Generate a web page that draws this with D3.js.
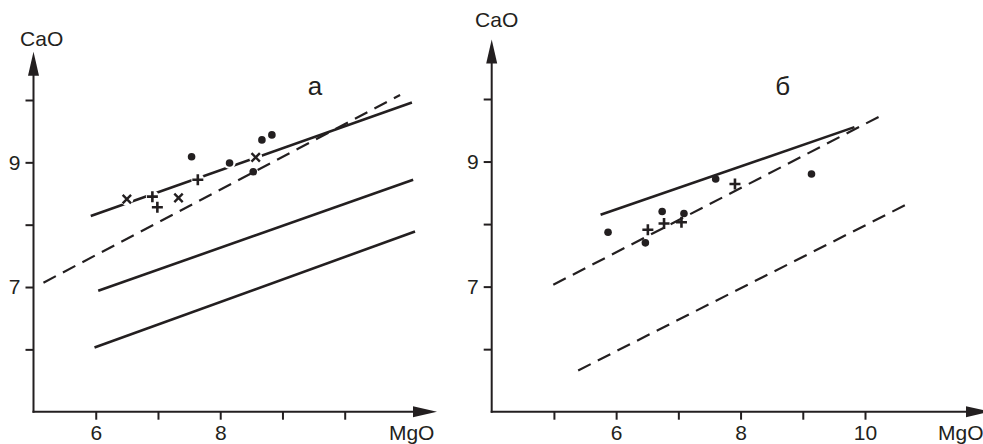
<!DOCTYPE html>
<html>
<head>
<meta charset="utf-8">
<script src="https://cdn.jsdelivr.net/npm/d3@7"></script>
<style>
  body { margin: 0; background: #fff; }
  svg { display: block; }
  text { font-family: "Liberation Sans", Arial, sans-serif; fill: #231f20; }
</style>
</head>
<body>
<script>
// panel а
const aSolid = [
  {x0: 5.92, y0: 8.14, x1: 11.08, y1: 9.96},
  {x0: 6.04, y0: 6.94, x1: 11.10, y1: 8.72},
  {x0: 5.98, y0: 6.03, x1: 11.13, y1: 7.89}
];
const aDashed = [{x0: 5.16, y0: 7.07, x1: 10.89, y1: 10.08}];
const aDots = [[7.54, 9.09], [8.15, 8.99], [8.53, 8.85], [8.67, 9.36], [8.83, 9.44]];
const aPlus = [[6.91, 8.45], [6.99, 8.28], [7.64, 8.72]];
const aCross = [[6.50, 8.41], [7.33, 8.43], [8.57, 9.08]];
const aXTicks = [6, 7, 8, 9, 10];
const aXLabels = [6, 8];

// panel б
const bSolid = [{x0: 5.75, y0: 8.15, x1: 9.83, y1: 9.55}];
const bDashed = [
  {x0: 4.99, y0: 7.03, x1: 10.31, y1: 9.76},
  {x0: 5.39, y0: 5.66, x1: 10.66, y1: 8.31}
];
const bDots = [[5.87, 7.87], [6.47, 7.70], [6.74, 8.20], [7.09, 8.17], [7.60, 8.72], [9.14, 8.80]];
const bPlus = [[6.51, 7.91], [6.77, 8.01], [7.05, 8.03], [7.91, 8.64]];
const bCross = [];
const bXTicks = [5, 6, 7, 8, 9, 10];
const bXLabels = [6, 8, 10];

const yTicks = [6, 7, 8, 9, 10];
const yLabels = [7, 9];

const ink = "#231f20";

const svg = d3.select("body").append("svg")
  .attr("width", 983).attr("height", 444);

function panel(cfg) {
  const x = d3.scaleLinear().domain(cfg.xDomain).range(cfg.xRange);
  const y = d3.scaleLinear().domain([5, 10]).range([411.7, cfg.y10]);
  const g = svg.append("g");
  const x0 = cfg.xRange[0], y0 = 411.7;

  // axes
  const xAxis = d3.axisBottom(x).tickValues(cfg.xTicks).tickSize(8).tickPadding(5)
    .tickFormat(d => cfg.xLabels.includes(d) ? d : "");
  const yAxis = d3.axisLeft(y).tickValues(yTicks).tickSize(8).tickPadding(5)
    .tickFormat(d => yLabels.includes(d) ? d : "");

  const gx = g.append("g").attr("transform", `translate(0,${y0})`).call(xAxis);
  const gy = g.append("g").attr("transform", `translate(${x0},0)`).call(yAxis);
  [gx, gy].forEach(a => {
    a.select(".domain").remove();
    a.selectAll("line").attr("stroke", ink).attr("stroke-width", 2);
    a.selectAll("text").attr("font-size", 21).attr("fill", ink)
      .attr("font-family", '"Liberation Sans", Arial, sans-serif');
  });

  // axis lines with arrow heads
  g.append("line").attr("x1", x0).attr("y1", y0 + 1).attr("x2", x0).attr("y2", cfg.yTip + 10)
    .attr("stroke", ink).attr("stroke-width", 2);
  g.append("line").attr("x1", x0 - 1).attr("y1", y0).attr("x2", cfg.xTip - 10).attr("y2", y0)
    .attr("stroke", ink).attr("stroke-width", 2);
  g.append("path")
    .attr("d", `M${x0},${cfg.yTip} L${x0 - 5.5},${cfg.yTip + 24} L${x0 + 5.5},${cfg.yTip + 24} Z`)
    .attr("fill", ink);
  g.append("path")
    .attr("d", `M${cfg.xTip},${y0} L${cfg.xTip - 24},${y0 - 5.5} L${cfg.xTip - 24},${y0 + 5.5} Z`)
    .attr("fill", ink);

  g.append("text").attr("x", cfg.cao[0]).attr("y", cfg.cao[1])
    .attr("text-anchor", "middle").attr("font-size", 21).text("CaO");
  g.append("text").attr("x", cfg.mgo[0]).attr("y", 440)
    .attr("text-anchor", cfg.mgoAnchor).attr("font-size", 21).text("MgO");
  g.append("text").attr("x", cfg.title[0]).attr("y", 95)
    .attr("text-anchor", "middle").attr("font-size", 26).text(cfg.name);

  // lines
  g.selectAll(".solid").data(cfg.solid).join("line")
    .attr("x1", d => x(d.x0)).attr("y1", d => y(d.y0))
    .attr("x2", d => x(d.x1)).attr("y2", d => y(d.y1))
    .attr("stroke", ink).attr("stroke-width", 2.6);
  g.selectAll(".dashed").data(cfg.dashed).join("line")
    .attr("x1", d => x(d.x0)).attr("y1", d => y(d.y0))
    .attr("x2", d => x(d.x1)).attr("y2", d => y(d.y1))
    .attr("stroke", ink).attr("stroke-width", 2.2)
    .attr("stroke-dasharray", "14,8");

  // markers (white halo knocks gaps into the lines under them)
  const plusPath = (s) => `M${-s},0H${s}M0,${-s}V${s}`;
  const crossPath = (s) => `M${-s},${-s}L${s},${s}M${-s},${s}L${s},${-s}`;
  if (cfg.halo) {
    [...cfg.plus, ...cfg.cross].forEach(p => {
      g.append("circle").attr("cx", x(p[0])).attr("cy", y(p[1])).attr("r", 6.5).attr("fill", "#fff");
    });
    g.append("circle").attr("cx", x(cfg.dots[1][0])).attr("cy", y(cfg.dots[1][1])).attr("r", 6).attr("fill", "#fff");
  }
  g.selectAll(".dot").data(cfg.dots).join("circle")
    .attr("cx", d => x(d[0])).attr("cy", d => y(d[1])).attr("r", 3.8).attr("fill", ink);
  g.selectAll(".plus").data(cfg.plus).join("path")
    .attr("transform", d => `translate(${x(d[0])},${y(d[1])})`)
    .attr("d", plusPath(5.5)).attr("stroke", ink).attr("stroke-width", 2.6).attr("fill", "none");
  g.selectAll(".cross").data(cfg.cross).join("path")
    .attr("transform", d => `translate(${x(d[0])},${y(d[1])})`)
    .attr("d", crossPath(4.2)).attr("stroke", ink).attr("stroke-width", 2.4).attr("fill", "none");
}

panel({
  name: "а", xDomain: [5, 10], xRange: [33.5, 344.7], y10: 100,
  xTicks: aXTicks, xLabels: aXLabels, yTip: 51.7, xTip: 437,
  cao: [41.7, 45.5], mgo: [411.7, 0], mgoAnchor: "middle", title: [315],
  solid: aSolid, dashed: aDashed, dots: aDots, plus: aPlus, cross: aCross, halo: true
});
panel({
  name: "б", xDomain: [4, 10], xRange: [491.7, 865], y10: 99,
  xTicks: bXTicks, xLabels: bXLabels, yTip: 39.5, xTip: 990,
  cao: [496.7, 27.3], mgo: [938, 0], mgoAnchor: "start", title: [782.7],
  solid: bSolid, dashed: bDashed, dots: bDots, plus: bPlus, cross: bCross, halo: false
});
</script>
</body>
</html>
